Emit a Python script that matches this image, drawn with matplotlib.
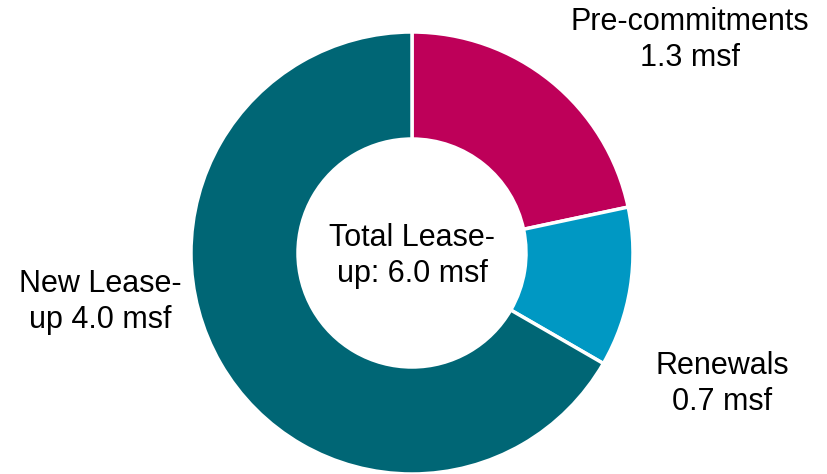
import matplotlib.pyplot as plt

labels = ['Pre-commitments\n1.3 msf', 'Renewals\n0.7 msf', 'New Lease-\nup 4.0 msf']
values = [1.3, 0.7, 4.0]
colors = ['#BE0059', '#0098C3', '#006675']
center_text = 'Total Lease-\nup: 6.0 msf'

plt.rcParams['font.family'] = ['Liberation Sans', 'DejaVu Sans']

fig = plt.figure(figsize=(8.28, 4.74), dpi=100)
ax = fig.add_axes([0, 0, 1, 1])

# donut laid out in pixel units (y up)
cx, cy = 412, 474 - 253
R = 221
ax.pie(values, colors=colors, startangle=90, counterclock=False,
       center=(cx, cy), radius=R, frame=True,
       wedgeprops=dict(width=107, edgecolor='white', linewidth=2.5))
ax.set_xlim(0, 828)
ax.set_ylim(0, 474)
ax.set_aspect('equal')
ax.axis('off')

ls = 1.25
ax.text(cx, 474 - 256, center_text, ha='center', va='center', fontsize=22, linespacing=ls)
ax.text(690, 474 - 40, labels[0], ha='center', va='center', fontsize=22, linespacing=ls)
ax.text(722, 474 - 384, labels[1], ha='center', va='center', fontsize=22, linespacing=ls)
ax.text(100, 474 - 302, labels[2], ha='center', va='center', fontsize=22, linespacing=ls)

fig.savefig('out.png', dpi=100)
